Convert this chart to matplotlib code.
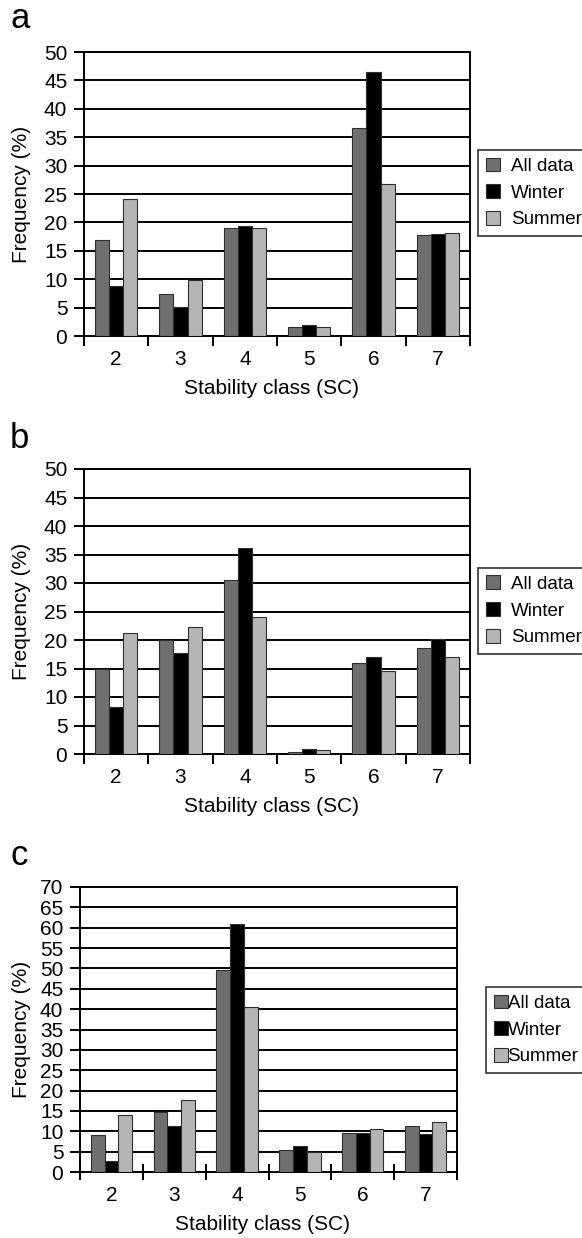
import matplotlib
matplotlib.use('Agg')
import matplotlib.pyplot as plt
import numpy as np

plt.rcParams['font.family'] = ['Liberation Sans', 'DejaVu Sans']

classes = ['2', '3', '4', '5', '6', '7']
series = ['All data', 'Winter', 'Summer']
colors = ['#6f6f6f', '#000000', '#b5b5b5']

# panel a
a_all = [16.9, 7.4, 19.1, 1.6, 36.7, 17.7]
a_winter = [8.8, 5.1, 19.4, 2.0, 46.4, 17.9]
a_summer = [24.2, 9.8, 19.1, 1.5, 26.8, 18.1]
# panel b
b_all = [14.9, 20.0, 30.5, 0.4, 15.9, 18.6]
b_winter = [8.3, 17.7, 36.1, 0.9, 17.1, 20.2]
b_summer = [21.2, 22.3, 24.0, 0.7, 14.6, 17.1]
# panel c
c_all = [9.1, 14.7, 49.5, 5.5, 9.7, 11.4]
c_winter = [2.6, 11.2, 60.8, 6.5, 9.5, 9.4]
c_summer = [14.1, 17.8, 40.5, 4.8, 10.6, 12.4]

W, H = 582, 1238
fig = plt.figure(figsize=(W/100, H/100), dpi=100)

def rect(x0, y0, x1, y1):
    return [x0/W, 1 - y1/H, (x1-x0)/W, (y1-y0)/H]

panels = [
    ('a', [a_all, a_winter, a_summer], (84, 52, 470, 336), 50, (10, 28), (478, 150), 0.6, 'out'),
    ('b', [b_all, b_winter, b_summer], (84, 469, 470, 754), 50, (10, 448), (478, 568), 0.6, 'out'),
    ('c', [c_all, c_winter, c_summer], (80, 887, 457, 1172), 70, (10, 865), (486, 987), 0.0, 'inout'),
]

fs = 15
for name, vals, box, ymax, lab, legpos, hpad, tdir in panels:
    x0, y0, x1, y1 = box
    ax = fig.add_axes(rect(x0, y0, x1, y1))
    x = np.arange(1, len(classes) + 1)
    w = 0.22
    for k in range(3):
        ax.bar(x + (k - 1) * w, vals[k], w, color=colors[k], edgecolor='#303030',
               linewidth=0.8, label=series[k], zorder=3)
    ax.set_xlim(0.5, len(classes) + 0.5)
    ax.set_ylim(0, ymax)
    ax.set_yticks(np.arange(0, ymax + 1, 5))
    ax.yaxis.grid(True, color='black', linewidth=1.4, zorder=0)
    ax.set_axisbelow(True)
    ax.set_xticks(np.arange(0.5, len(classes) + 1, 1))
    ax.set_xticklabels([])
    ax.set_xticks(x, minor=True)
    ax.set_xticklabels(classes, minor=True)
    if tdir == 'inout':
        ax.tick_params(axis='x', which='major', direction='inout', length=12, width=1.4)
    else:
        ax.tick_params(axis='x', which='major', direction='out', length=7, width=1.4)
    ax.tick_params(axis='x', which='minor', length=0, pad=10, labelsize=fs)
    ax.tick_params(axis='y', direction='out', length=7, width=1.4, pad=5, labelsize=fs)
    for s in ax.spines.values():
        s.set_linewidth(1.4)
    fig.text(lab[0]/W, 1 - lab[1]/H, name, fontsize=25, ha='left', va='baseline')
    fig.text(22/W, 1 - ((y0 + y1)/2)/H, 'Frequency (%)', rotation=90, fontsize=fs,
             ha='center', va='center')
    xl_y = y1 + 53
    fig.text(((x0 + x1)/2 - 6)/W, 1 - xl_y/H, 'Stability class (SC)', fontsize=fs,
             ha='center', va='center')
    leg = ax.legend(loc='upper left', bbox_to_anchor=(legpos[0]/W, 1 - legpos[1]/H),
                    bbox_transform=fig.transFigure, fontsize=13.5, frameon=True,
                    fancybox=False, edgecolor='black', handlelength=0.75,
                    handleheight=0.75, handletextpad=hpad, borderpad=0.4,
                    labelspacing=0.5, borderaxespad=0)
    leg.get_frame().set_linewidth(1.2)

fig.savefig('out.png', dpi=100)
